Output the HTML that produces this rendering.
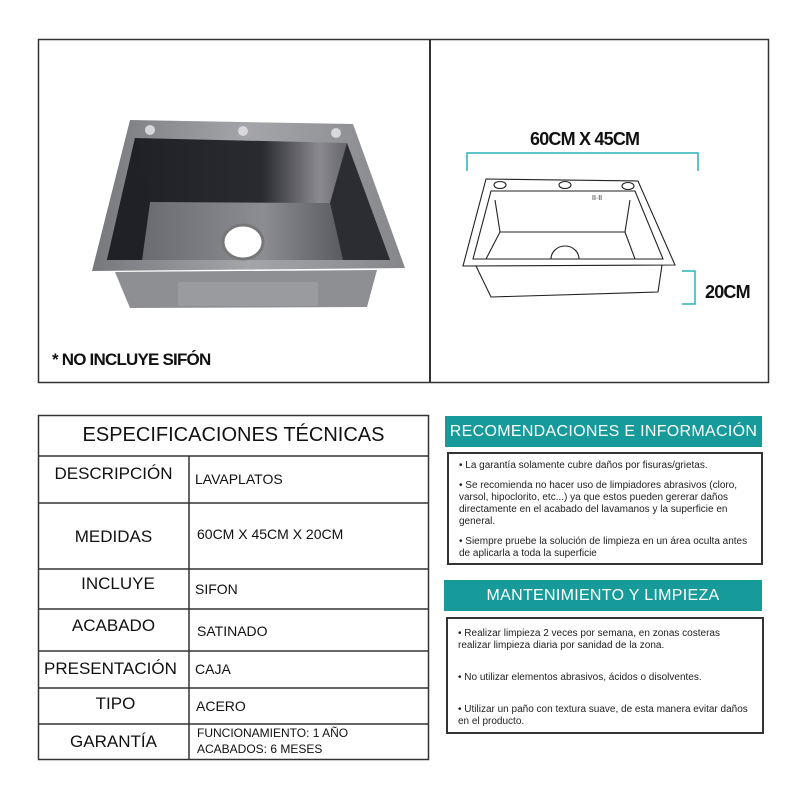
<!DOCTYPE html>
<html><head><meta charset="utf-8"><style>
body{margin:0;background:#fff;width:800px;height:800px;position:relative;font-family:"Liberation Sans","DejaVu Sans",sans-serif;overflow:hidden}
.a{position:absolute}
.t{position:absolute;color:#111;white-space:nowrap}
.hd{position:absolute;background:#179a9a;color:#fff;font-size:16px;text-align:center;line-height:31px;letter-spacing:0.3px}
.bx{position:absolute;border:2px solid #333;box-sizing:border-box;font-size:10px;line-height:12px;color:#222;padding:0 10px}
.bx p{margin:0}
</style></head><body>
<svg class="a" style="left:0;top:0" width="800" height="800">
<defs>
<linearGradient id="rim" x1="0" y1="0" x2="1" y2="0"><stop offset="0" stop-color="#77787c"/><stop offset="0.5" stop-color="#a4a5a9"/><stop offset="1" stop-color="#86878a"/></linearGradient>
<linearGradient id="bk" x1="0" y1="0" x2="1" y2="0"><stop offset="0" stop-color="#1e1f24"/><stop offset="0.55" stop-color="#2a2b31"/><stop offset="0.75" stop-color="#8a8a90"/><stop offset="1" stop-color="#2b2c32"/></linearGradient>
<linearGradient id="fl" x1="0" y1="0" x2="1" y2="0"><stop offset="0" stop-color="#6a6b70"/><stop offset="0.6" stop-color="#8c8d92"/><stop offset="1" stop-color="#5a5b60"/></linearGradient>
</defs>
<rect x="38.5" y="39.5" width="730" height="343" fill="none" stroke="#333" stroke-width="1.5"/>
<line x1="430" y1="39" x2="430" y2="383" stroke="#333" stroke-width="2"/>
<polygon points="115,272 377,270 367,307 130,308" fill="#8e8f93"/>
<rect x="178" y="282" width="140" height="24" fill="#9a9b9e"/>
<polygon points="130,120 353,124 405,268 92,271" fill="url(#rim)"/>
<polygon points="135,138 347,143 390,260 107,260" fill="url(#bk)"/>
<polygon points="150,202 330,203 343,260 142,260" fill="url(#fl)"/>
<polygon points="107,260 135,138 150,202 142,260" fill="#202126"/>
<polygon points="390,260 347,143 330,203 343,260" fill="#2c2d33"/>
<ellipse cx="243" cy="242" rx="20" ry="17" fill="#fff" stroke="#777" stroke-width="3"/>
<circle cx="150" cy="130" r="5" fill="#d8d8dc"/><circle cx="243" cy="131" r="5" fill="#d8d8dc"/><circle cx="336" cy="133" r="5" fill="#d8d8dc"/>
<polyline points="467,171 467,153 698,153 698,171" fill="none" stroke="#27b3b8" stroke-width="1.5"/>
<g fill="none" stroke="#222" stroke-width="1.1">
<polygon points="486,179 638,181 675,265 463,266"/>
<polygon points="491,191 635,191 663,259 473,259"/>
<polyline points="476,266 491,297 658,292 662,265"/>
<polyline points="495,200 500,232 625,232 630,200"/>
<line x1="500" y1="232" x2="486" y2="259"/><line x1="625" y1="232" x2="635" y2="259"/>
<path d="M551,259 A14,13 0 0 1 579,259"/>
<ellipse cx="500" cy="185" rx="6" ry="3.5"/><ellipse cx="565" cy="185" rx="6" ry="3.5"/><ellipse cx="628" cy="186" rx="6" ry="3.5"/>
</g>
<text x="592" y="200" font-size="7" font-family="Liberation Sans" fill="#222">II·II</text>
<polyline points="682,271 695,271 695,304 682,304" fill="none" stroke="#27b3b8" stroke-width="1.5"/>
<g stroke="#333" stroke-width="1.5" fill="none">
<rect x="38.5" y="415.5" width="390" height="344"/>
<line x1="38" y1="456" x2="429" y2="456"/><line x1="38" y1="503" x2="429" y2="503"/>
<line x1="38" y1="569" x2="429" y2="569"/><line x1="38" y1="609" x2="429" y2="609"/>
<line x1="38" y1="651" x2="429" y2="651"/><line x1="38" y1="688" x2="429" y2="688"/>
<line x1="38" y1="724" x2="429" y2="724"/><line x1="189" y1="456" x2="189" y2="759"/>
</g>
</svg>
<div class="t" style="left:530px;top:129px;font-size:18px;letter-spacing:-0.8px;font-weight:bold">60CM X 45CM</div>
<div class="t" style="left:705px;top:282px;font-size:18px;letter-spacing:-0.8px;font-weight:bold">20CM</div>
<div class="t" style="left:52px;top:350px;font-size:17px;letter-spacing:-0.8px;font-weight:bold">* NO INCLUYE SIFÓN</div>

<div class="t" style="left:38px;width:391px;text-align:center;top:424px;font-size:20px">ESPECIFICACIONES TÉCNICAS</div>
<div class="t" style="left:38px;width:151px;text-align:center;top:464px;font-size:17px">DESCRIPCIÓN</div>
<div class="t" style="left:38px;width:151px;text-align:center;top:527px;font-size:17px">MEDIDAS</div>
<div class="t" style="left:38px;width:160px;text-align:center;top:574px;font-size:17px">INCLUYE</div>
<div class="t" style="left:38px;width:151px;text-align:center;top:616px;font-size:17px">ACABADO</div>
<div class="t" style="left:44px;top:659px;font-size:17px">PRESENTACIÓN</div>
<div class="t" style="left:38px;width:155px;text-align:center;top:694px;font-size:17px">TIPO</div>
<div class="t" style="left:38px;width:151px;text-align:center;top:732px;font-size:17px">GARANTÍA</div>
<div class="t" style="left:195px;top:471px;font-size:14px">LAVAPLATOS</div>
<div class="t" style="left:197px;top:526px;font-size:14px">60CM X 45CM X 20CM</div>
<div class="t" style="left:195px;top:581px;font-size:14px">SIFON</div>
<div class="t" style="left:197px;top:623px;font-size:14px">SATINADO</div>
<div class="t" style="left:195px;top:661px;font-size:14px">CAJA</div>
<div class="t" style="left:196px;top:698px;font-size:14px">ACERO</div>
<div class="t" style="left:197px;top:725px;font-size:12px;line-height:16px">FUNCIONAMIENTO: 1 AÑO<br>ACABADOS: 6 MESES</div>

<div class="hd" style="left:445px;top:416px;width:317px;height:31px">RECOMENDACIONES E INFORMACIÓN</div>
<div class="bx" style="left:447px;top:452px;width:316px;height:113px;padding-top:6px">
<p>• La garantía solamente cubre daños por fisuras/grietas.</p>
<p style="margin-top:8px">• Se recomienda no hacer uso de limpiadores abrasivos (cloro, varsol, hipoclorito, etc...) ya que estos pueden gererar daños directamente en el acabado del lavamanos y la superficie en general.</p>
<p style="margin-top:8px">• Siempre pruebe la solución de limpieza en un área oculta antes de aplicarla a toda la superficie</p>
</div>
<div class="hd" style="left:444px;top:580px;width:318px;height:31px">MANTENIMIENTO Y LIMPIEZA</div>
<div class="bx" style="left:446px;top:617px;width:318px;height:117px;padding-top:9px">
<p>• Realizar limpieza 2 veces por semana, en zonas costeras realizar limpieza diaria por sanidad de la zona.</p>
<p style="margin-top:20px">• No utilizar elementos abrasivos, ácidos o disolventes.</p>
<p style="margin-top:20px">• Utilizar un paño con textura suave, de esta manera evitar daños en el producto.</p>
</div>
</body></html>
